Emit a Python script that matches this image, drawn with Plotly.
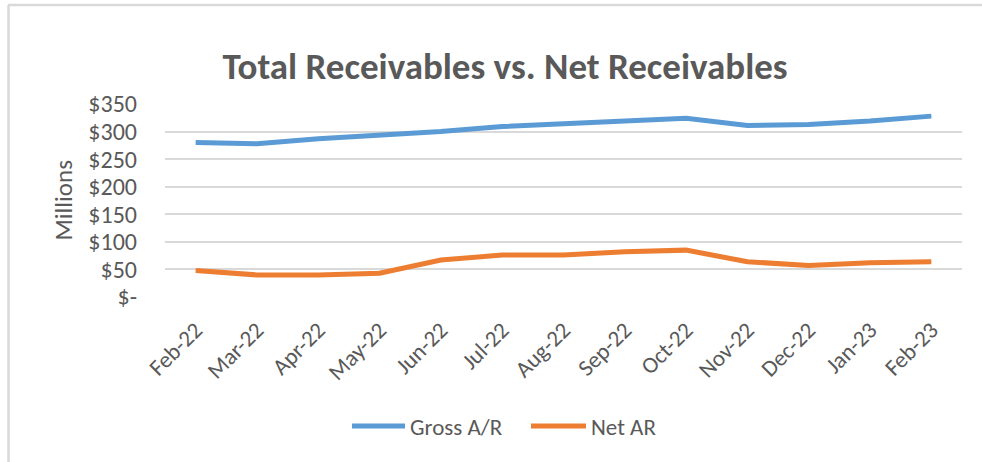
import plotly.graph_objects as go

months = ["Feb-22", "Mar-22", "Apr-22", "May-22", "Jun-22", "Jul-22", "Aug-22",
          "Sep-22", "Oct-22", "Nov-22", "Dec-22", "Jan-23", "Feb-23"]
gross_ar = [280, 278, 287, 293, 300, 309, 314, 318, 324, 311, 313, 319, 328]
net_ar = [48, 40, 40, 43, 67, 76, 76, 82, 85, 64, 57, 62, 64]
y_ticks = [0, 50, 100, 150, 200, 250, 300, 350]
y_tick_labels = ["$-", "$50", "$100", "$150", "$200", "$250", "$300", "$350"]
series_names = ["Gross A/R", "Net AR"]
series_colors = ["#5B9BD5", "#ED7D31"]

FONT = "Carlito, Lato, sans-serif"
GRAY = "#595959"
W, H = 982, 462
L, R, T, B = 165, 20, 104, 165
pw, ph = W - L - R, H - T - B


def px_x(x):
    return (x - L) / pw


def px_y(y):
    return (H - B - y) / ph


fig = go.Figure()
for name, vals, col in zip(series_names, [gross_ar, net_ar], series_colors):
    fig.add_trace(go.Scatter(x=months, y=vals, name=name, mode="lines",
                             line=dict(color=col, width=5), showlegend=False,
                             hoverinfo="skip"))

# Legend drawn manually to match Excel-style long line keys
legend_items = [(352, 405, 408), (531, 586, 589)]
shapes = [
    dict(type="line", xref="paper", yref="paper", x0=px_x(8), x1=px_x(982),
         y0=px_y(5), y1=px_y(5), line=dict(color="#D9D9D9", width=2.5)),
    dict(type="line", xref="paper", yref="paper", x0=px_x(8.5), x1=px_x(8.5),
         y0=px_y(5), y1=px_y(462), line=dict(color="#D9D9D9", width=2.5)),
]
annotations = [dict(text="Millions", xref="paper", yref="paper",
                    x=px_x(63), y=0.5, textangle=-90, showarrow=False,
                    xanchor="center", yanchor="middle",
                    font=dict(family=FONT, size=25, color=GRAY))]
for (x0, x1, tx), name, col in zip(legend_items, series_names, series_colors):
    shapes.append(dict(type="line", xref="paper", yref="paper",
                       x0=px_x(x0), x1=px_x(x1), y0=px_y(426), y1=px_y(426),
                       line=dict(color=col, width=5)))
    annotations.append(dict(text=name, xref="paper", yref="paper",
                            x=px_x(tx), y=px_y(427), showarrow=False,
                            xanchor="left", yanchor="middle",
                            font=dict(family=FONT, size=23, color=GRAY)))

fig.update_layout(
    width=W, height=H,
    margin=dict(l=L, r=R, t=T, b=B),
    paper_bgcolor="white", plot_bgcolor="white",
    font=dict(family=FONT, color=GRAY),
    title=dict(text="<b>Total Receivables vs. Net Receivables</b>",
               x=505 / W, y=1 - 66 / H, xref="container", yref="container",
               xanchor="center", yanchor="middle",
               font=dict(family=FONT, size=37, color=GRAY)),
    showlegend=False,
    xaxis=dict(type="category", tickangle=-45, showgrid=False, ticks="",
               showline=False, zeroline=False, ticklabelstandoff=14,
               tickfont=dict(family=FONT, size=23, color=GRAY),
               range=[-0.5, len(months) - 0.5]),
    yaxis=dict(range=[0, 350], tickvals=y_ticks, ticktext=y_tick_labels,
               showgrid=True, gridcolor="#D9D9D9", gridwidth=2,
               zeroline=False, showline=False, ticks="",
               ticklabelstandoff=27,
               tickfont=dict(family=FONT, size=24, color=GRAY)),
    shapes=shapes,
    annotations=annotations,
)

fig.write_html("out.html", config={"displayModeBar": False},
               post_script="document.body.style.margin='0';")
